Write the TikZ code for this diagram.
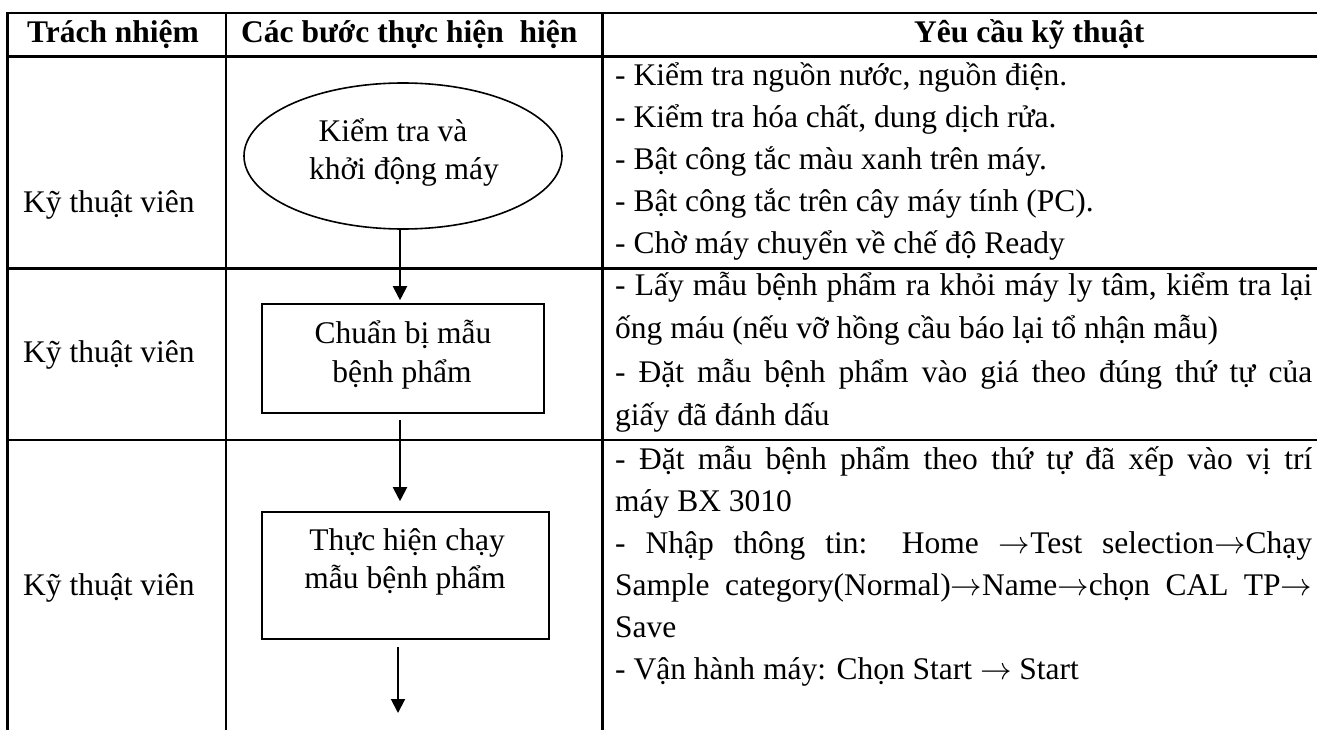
\RequirePackage{fix-cm}
\documentclass[tikz,border=0pt]{standalone}
\usepackage{fontspec}
\setmainfont{Liberation Serif}
\usetikzlibrary{arrows.meta,shapes.geometric}
\newcommand{\rarr}{\ensuremath{\rightarrow}}
\begin{document}
\begin{tikzpicture}[x=1pt,y=-1pt,
  txt/.style={inner sep=0pt, anchor=base west, font=\fontsize{31.5}{42}\selectfont},
  ctxt/.style={inner sep=0pt, anchor=base, font=\fontsize{31.5}{42}\selectfont},
  hdr/.style={inner sep=0pt, anchor=base west, font=\fontsize{31.5}{42}\selectfont\bfseries},
  grid/.style={line width=2.6pt},
  shp/.style={draw, line width=1.6pt, inner sep=0pt},
  arr/.style={line width=2pt, -{Triangle[width=14pt,length=14pt]}}]
\useasboundingbox (0,0) rectangle (1317,730);
\clip (0,0) rectangle (1317,730);
% table grid
\draw[grid] (1340,13) -- (7.5,13) -- (7.5,745);
\draw[grid] (7.5,56.5) -- (1340,56.5);
\draw[grid] (7.5,268.5) -- (1340,268.5);
\draw[grid] (7.5,440) -- (1340,440);
\draw[grid] (226,13) -- (226,745);
\draw[grid] (602.5,13) -- (602.5,745);
% header
\node[hdr] (h1) at (27,43) {Trách nhiệm};
\node[hdr] (h2) at (241,43) {Các bước thực hiện\ \ hiện};
\node[hdr] (h3) at (914,43) {Yêu cầu kỹ thuật};
% responsibility
\node[txt] (r1) at (23,213) {Kỹ thuật viên};
\node[txt] (r2) at (23,362) {Kỹ thuật viên};
\node[txt] (r3) at (23,595) {Kỹ thuật viên};
% flow shapes
\node[shp, ellipse, minimum width=318pt, minimum height=146pt] (e1) at (403,156) {};
\node[shp, rectangle, minimum width=282pt, minimum height=109pt] (b2) at (403,358.5) {};
\node[shp, rectangle, minimum width=287pt, minimum height=127pt] (b3) at (405.5,575.5) {};
\node[ctxt] (e1a) at (393,142) {Kiểm tra và};
\node[ctxt] (e1b) at (404,180) {khởi động máy};
\node[ctxt] (b2a) at (403,343) {Chuẩn bị mẫu};
\node[ctxt] (b2b) at (402,382) {bệnh phẩm};
\node[ctxt] (b3a) at (407,550) {Thực hiện chạy};
\node[ctxt] (b3b) at (405,588) {mẫu bệnh phẩm};
% connectors
\coordinate (ax1) at (400,0);
\coordinate (ax3) at (398,0);
\coordinate (t3) at (398,713);
\draw[arr, shorten >=3pt] (e1.south -| ax1) -- (b2.north -| ax1);
\draw[arr, shorten <=6pt, shorten >=10pt] (b2.south -| ax1) -- (b3.north -| ax1);
\draw[arr, shorten <=7pt] (b3.south -| ax3) -- (t3);
% requirements
\node[txt] (q11) at (615,86) {- Kiểm tra nguồn nước, nguồn điện.};
\node[txt] (q12) at (615,128) {- Kiểm tra hóa chất, dung dịch rửa.};
\node[txt] (q13) at (615,170) {- Bật công tắc màu xanh trên máy.};
\node[txt] (q14) at (615,212) {- Bật công tắc trên cây máy tính (PC).};
\node[txt] (q15) at (615,254) {- Chờ máy chuyển về chế độ Ready};
\node[txt] (q21) at (615,295) {\makebox[697pt][s]{- Lấy mẫu bệnh phẩm ra khỏi máy ly tâm, kiểm tra lại}};
\node[txt] (q22) at (615,338.5) {ống máu (nếu vỡ hồng cầu báo lại tổ nhận mẫu)};
\node[txt] (q23) at (615,382) {\makebox[697pt][s]{- Đặt mẫu bệnh phẩm vào giá theo đúng thứ tự của}};
\node[txt] (q24) at (615,425.5) {giấy đã đánh dấu};
\node[txt] (q31) at (615,469) {\makebox[697pt][s]{- Đặt mẫu bệnh phẩm theo thứ tự đã xếp vào vị trí}};
\node[txt] (q32) at (615,511) {máy BX 3010};
\node[txt] (q33) at (615,553) {\makebox[697pt][s]{- Nhập thông tin: Home \rarr Test selection\rarr Chạy}};
\node[txt] (q34) at (615,595) {\makebox[697pt][s]{Sample category(Normal)\rarr Name\rarr chọn CAL TP\rarr}};
\node[txt] (q35) at (615,637) {Save};
\node[txt] (q36) at (615,679) {- Vận hành máy: Chọn Start \rarr{} Start};
\end{tikzpicture}
\end{document}
